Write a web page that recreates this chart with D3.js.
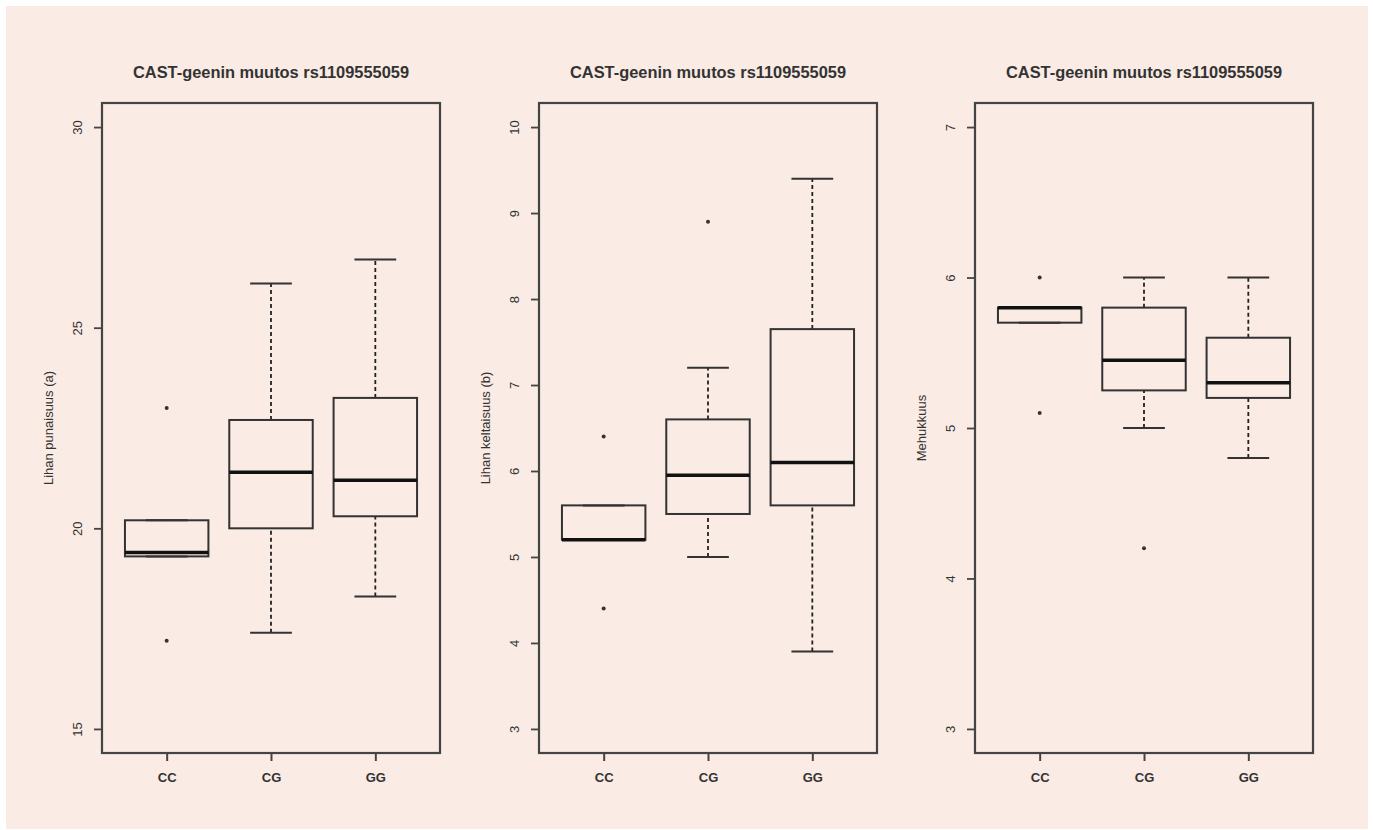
<!DOCTYPE html>
<html>
<head>
<meta charset="utf-8">
<script src="https://cdn.jsdelivr.net/npm/d3@7"></script>
<style>
  html, body { margin: 0; padding: 0; background: #ffffff; }
  svg { display: block; }
  text { font-family: "Liberation Sans", Arial, sans-serif; fill: #333; }
</style>
</head>
<body>
<div id="chart"></div>
<script>
// data
const groups = ['CC', 'CG', 'GG'];
const title = 'CAST-geenin muutos rs1109555059';

// five numbers per group: [lower whisker, q1, median, q3, upper whisker]
const punaisuus = [[19.3, 19.3, 19.4, 20.2, 20.2], [17.4, 20.0, 21.4, 22.7, 26.1], [18.3, 20.3, 21.2, 23.25, 26.7]];
const punaisuusOut = [[23.0, 17.2], [], []];
const punaisuusTicks = [15, 20, 25, 30];

const keltaisuus = [[5.2, 5.2, 5.2, 5.6, 5.6], [5.0, 5.5, 5.95, 6.6, 7.2], [3.9, 5.6, 6.1, 7.65, 9.4]];
const keltaisuusOut = [[6.4, 4.4], [8.9], []];
const keltaisuusTicks = [3, 4, 5, 6, 7, 8, 9, 10];

const mehukkuus = [[5.7, 5.7, 5.8, 5.8, 5.8], [5.0, 5.25, 5.45, 5.8, 6.0], [4.8, 5.2, 5.3, 5.6, 6.0]];
const mehukkuusOut = [[6.0, 5.1], [4.2], []];
const mehukkuusTicks = [3, 4, 5, 6, 7];

const panels = [
  { label: 'Lihan punaisuus (a)', stats: punaisuus, out: punaisuusOut, ticks: punaisuusTicks },
  { label: 'Lihan keltaisuus (b)', stats: keltaisuus, out: keltaisuusOut, ticks: keltaisuusTicks },
  { label: 'Mehukkuus', stats: mehukkuus, out: mehukkuusOut, ticks: mehukkuusTicks }
];

const W = 1373, H = 830;
const lefts = [102, 539, 975];
const plotTop = 103, pw = 338, ph = 650;

const svg = d3.select('#chart').append('svg')
  .attr('width', W).attr('height', H);

svg.append('rect')
  .attr('x', 6).attr('y', 6).attr('width', 1362).attr('height', 823)
  .attr('fill', '#faebe4');

panels.forEach((p, i) => {
  const g = svg.append('g').attr('transform', 'translate(' + lefts[i] + ',' + plotTop + ')');

  // R style: 4% padding around the limits
  const lo = d3.min(p.ticks), hi = d3.max(p.ticks);
  const pad = (hi - lo) * 0.04;
  const y = d3.scaleLinear().domain([lo - pad, hi + pad]).range([ph, 0]);
  const x = d3.scaleLinear().domain([0.38, 3.62]).range([0, pw]);
  const bw = x(1.4) - x(1);
  const cw = x(1.2) - x(1);

  // y axis
  const ya = g.append('g').call(d3.axisLeft(y).tickValues(p.ticks).tickSize(8).tickFormat(d3.format('d')));
  ya.select('.domain').remove();
  ya.selectAll('.tick line').attr('stroke', '#444').attr('stroke-width', 1.8);
  ya.selectAll('.tick text')
    .attr('x', null).attr('dy', null)
    .attr('transform', 'translate(-20,0) rotate(-90)')
    .attr('text-anchor', 'middle')
    .style('font-size', '13px').attr('fill', '#333');

  // x axis
  const xa = g.append('g').attr('transform', 'translate(0,' + ph + ')')
    .call(d3.axisBottom(x).tickValues([1, 2, 3]).tickSize(8).tickFormat(d => groups[d - 1]));
  xa.select('.domain').remove();
  xa.selectAll('.tick line').attr('stroke', '#444').attr('stroke-width', 2);
  xa.selectAll('.tick text')
    .attr('y', 29).attr('dy', null)
    .style('font-size', '13px').style('font-weight', 'bold').attr('fill', '#444');

  // whiskers, staples, boxes, medians
  const bx = g.selectAll('g.box').data(p.stats).enter().append('g').attr('class', 'box');
  bx.append('line')
    .attr('x1', (d, j) => x(j + 1)).attr('x2', (d, j) => x(j + 1))
    .attr('y1', d => y(d[0])).attr('y2', d => y(d[1]))
    .attr('stroke', '#222').attr('stroke-width', 1.8).attr('stroke-dasharray', '4,3');
  bx.append('line')
    .attr('x1', (d, j) => x(j + 1)).attr('x2', (d, j) => x(j + 1))
    .attr('y1', d => y(d[3])).attr('y2', d => y(d[4]))
    .attr('stroke', '#222').attr('stroke-width', 1.8).attr('stroke-dasharray', '4,3');
  [0, 4].forEach(k => {
    bx.append('line')
      .attr('x1', (d, j) => x(j + 1) - cw).attr('x2', (d, j) => x(j + 1) + cw)
      .attr('y1', d => y(d[k])).attr('y2', d => y(d[k]))
      .attr('stroke', '#333').attr('stroke-width', 2);
  });
  bx.append('rect')
    .attr('x', (d, j) => x(j + 1) - bw).attr('width', 2 * bw)
    .attr('y', d => y(d[3])).attr('height', d => y(d[1]) - y(d[3]))
    .attr('fill', 'none').attr('stroke', '#333').attr('stroke-width', 2);
  bx.append('line')
    .attr('x1', (d, j) => x(j + 1) - bw).attr('x2', (d, j) => x(j + 1) + bw)
    .attr('y1', d => y(d[2])).attr('y2', d => y(d[2]))
    .attr('stroke', '#111').attr('stroke-width', 3.5);

  // outliers
  const pts = [];
  p.out.forEach((vals, j) => vals.forEach(v => pts.push({ j: j, v: v })));
  g.selectAll('circle.out').data(pts).enter().append('circle')
    .attr('class', 'out')
    .attr('cx', d => x(d.j + 1)).attr('cy', d => y(d.v)).attr('r', 2)
    .attr('fill', '#333');

  // frame
  g.append('rect').attr('width', pw).attr('height', ph)
    .attr('fill', 'none').attr('stroke', '#444').attr('stroke-width', 2.2);

  g.append('text')
    .attr('x', pw / 2).attr('y', -25)
    .attr('text-anchor', 'middle')
    .style('font-size', '16.4px').style('font-weight', 'bold').attr('fill', '#333')
    .text(title);

  g.append('text')
    .attr('transform', 'translate(-49,' + (ph / 2) + ') rotate(-90)')
    .attr('text-anchor', 'middle')
    .style('font-size', '13px').attr('fill', '#333')
    .text(p.label);
});
</script>
</body>
</html>
